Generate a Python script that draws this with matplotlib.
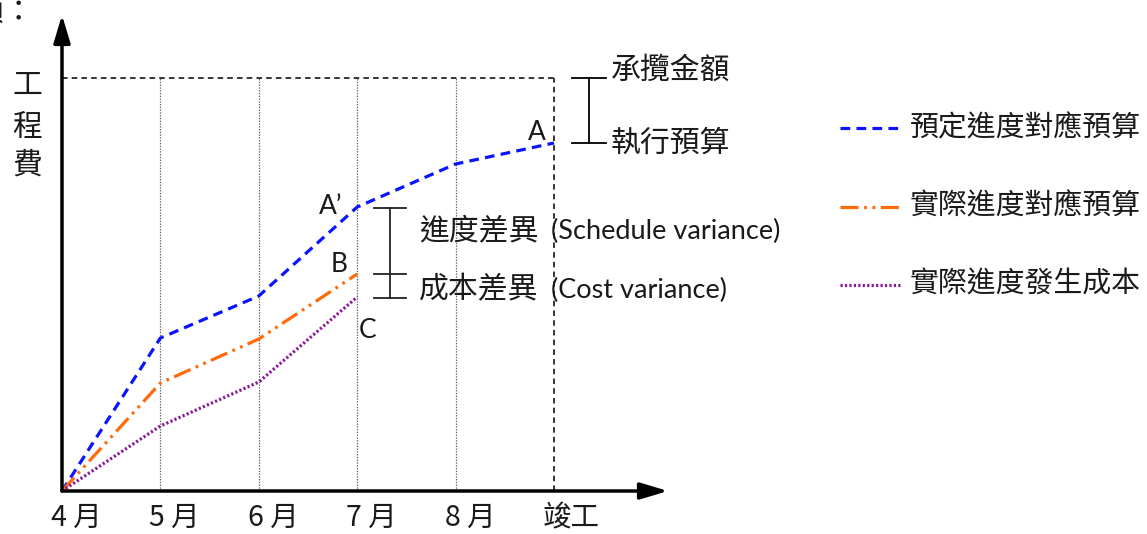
import matplotlib
matplotlib.use("Agg")
import matplotlib.pyplot as plt

# ---- data ----
months = ['4 月', '5 月', '6 月', '7 月', '8 月', '竣工']
planned = [0, 153, 195, 284, 327, 348]        # 預定進度對應預算
earned = [0, 108, 152, 217]                   # 實際進度對應預算
actual = [0, 65, 109, 194]                    # 實際進度發生成本
contract = 413                                # 承攬金額
budget = 348                                  # 執行預算
legend_labels = ['預定進度對應預算', '實際進度對應預算', '實際進度發生成本']

plt.rcParams['lines.scale_dashes'] = False
CJK = ['Noto Sans CJK TC', 'DejaVu Sans']
LAT = ['Lato', 'DejaVu Sans']
TXT = '#1a1a1a'
FS = 21.5

W, H = 1147, 534
X0, Y0, DX = 62, 491, 98.4
fig = plt.figure(figsize=(W / 100, H / 100), dpi=100)
ax = fig.add_axes([0, 0, 1, 1])
ax.set_xlim(-X0 / DX, (W - X0) / DX)
ax.set_ylim(-(H - Y0), Y0)
ax.axis('off')

def px(x):
    return (x - X0) / DX

def py(y):
    return Y0 - y

n = len(months)
xs = list(range(n))

# grid
ax.vlines(xs[1:-1], 0, contract, colors='#666666', lw=0.9, linestyles=(0, (1, 1)), zorder=1)
# contract dashed box
ax.plot([0, xs[-1]], [contract, contract], color='black', lw=1.1, dashes=(4, 3), zorder=1)
ax.plot([xs[-1], xs[-1]], [0, contract], color='black', lw=1.1, dashes=(4, 3), zorder=1)

# series
blue_kw = dict(color='#0a14ff', lw=2.3, dashes=(7, 4.5))
orange_kw = dict(color='#ff6a0a', lw=2.3, dashes=(13, 4, 2, 4, 2, 4))
purple_kw = dict(color='#8b1a9a', lw=2.3, dashes=(1.6, 1.6))
ax.plot(xs, planned, zorder=3, **blue_kw)
ax.plot(xs[:len(earned)], earned, zorder=3, **orange_kw)
ax.plot(xs[:len(actual)], actual, zorder=3, **purple_kw)

# axes arrows
arr = dict(arrowstyle='-|>,head_length=0.6,head_width=0.18', lw=2.5, color='black',
           mutation_scale=28, shrinkA=0, shrinkB=0)
ax.annotate('', xy=(0, py(15)), xytext=(0, 0), arrowprops=arr, zorder=5)
ax.annotate('', xy=(px(668), 0), xytext=(0, 0), arrowprops=arr, zorder=5)

# tick labels
for i, lab in enumerate(months):
    ax.text(i - 11 / DX, py(518), lab, ha='left', va='center', fontsize=20.5,
            family=CJK, color=TXT)

# y label
for ch, y in zip('工程費', [85, 127, 165]):
    ax.text(px(27), py(y), ch, ha='center', va='center', fontsize=FS, family=CJK, color=TXT)
ax.text(px(34), py(12), '金額：', ha='right', va='center', fontsize=FS, family=CJK, color=TXT)

# contract / budget bracket
k = 1.0 / DX
bx = xs[-1] + 35 * k
ax.plot([bx - 17 * k, bx + 17 * k], [contract, contract], color='black', lw=1.3)
ax.plot([bx - 17 * k, bx + 17 * k], [budget, budget], color='black', lw=1.3)
ax.plot([bx, bx], [budget, contract], color='black', lw=1.3)
ax.text(px(611), py(70), '承攬金額', ha='left', va='center', fontsize=FS, family=CJK, color=TXT)
ax.text(px(611), py(143), '執行預算', ha='left', va='center', fontsize=FS, family=CJK, color=TXT)

# variance bracket
vx = xs[3] + 33 * k
for yv in (planned[3] - 1, earned[3], actual[3] - 1):
    ax.plot([vx - 16 * k, vx + 16 * k], [yv, yv], color='#222222', lw=1.3)
ax.plot([vx, vx], [actual[3] - 1, planned[3] - 1], color='#222222', lw=1.3)
ax.text(px(419), py(231), '進度差異', ha='left', va='center', fontsize=FS, family=CJK, color=TXT)
ax.text(px(551), py(231), '(Schedule variance)', ha='left', va='center', fontsize=19.5, family=LAT, color=TXT)
ax.text(px(419), py(290), '成本差異', ha='left', va='center', fontsize=FS, family=CJK, color=TXT)
ax.text(px(551), py(290), '(Cost variance)', ha='left', va='center', fontsize=19.5, family=LAT, color=TXT)

# point labels
for lab, (x, y) in {'A': (537, 132), 'A\u2019': (331, 207), 'B': (339, 264), 'C': (368, 330)}.items():
    ax.text(px(x), py(y), lab, ha='center', va='center', fontsize=19, family=LAT, color=TXT)

# legend (manual)
for kw, lab, y in zip([blue_kw, orange_kw, purple_kw], legend_labels, [128, 207, 285]):
    ax.plot([px(840), px(900)], [py(y), py(y)], **kw)
    ax.text(px(910), py(y), lab, ha='left', va='center', fontsize=20.8, family=CJK, color=TXT)

fig.savefig('out.png', dpi=100)
